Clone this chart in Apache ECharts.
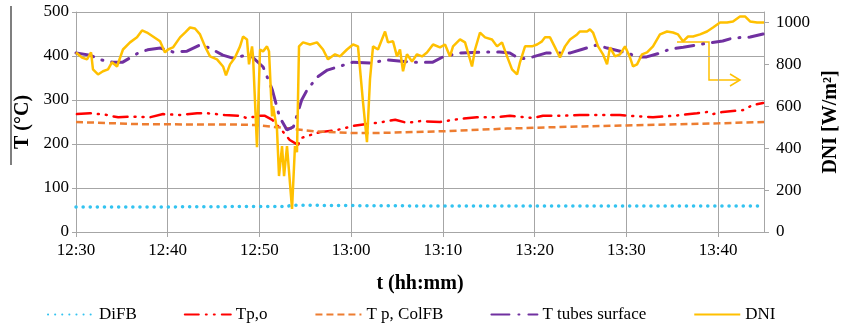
<!DOCTYPE html>
<html>
<head>
<meta charset="utf-8">
<script src="https://cdn.jsdelivr.net/npm/echarts@6/dist/echarts.min.js"></script>
<style>
  html, body { margin: 0; padding: 0; background: #fff; }
  #chart { width: 842px; height: 331px; }
</style>
</head>
<body>
<div id="chart"></div>
<script>
// time axis: minutes after 12:30
const xTicks = ['12:30', '12:40', '12:50', '13:00', '13:10', '13:20', '13:30', '13:40'];

// DiFB (°C)
const difbT = [0, 10, 20, 23, 23.5, 30, 40, 50, 60, 75];
const difbV = [57, 57, 58, 58, 61, 60, 59, 59, 59, 59];

// Tp,o (°C)
const tpoT = [0.1, 1.5, 3.4, 3.9, 4.6, 5.9, 8.1, 9.5, 11.3, 13.2, 14.3, 16.2, 17.9, 18.6, 20.1, 20.6, 21.4, 22.6, 23.3, 24.2,
  24.6, 25.5, 26.6, 28.5, 30.2, 31.5, 32.8, 34.8, 36.1, 37.5, 39.7, 41.1, 43.7, 44.8, 45.9, 47.3, 49.8, 50.9, 52.8, 54.9,
  59.3, 60.4, 62.9, 65.1, 67.7, 68.9, 69.4, 70.5, 72.7, 73.8, 74.9];
const tpoV = [268, 270, 266, 263, 261, 262, 261, 268, 266, 270, 270, 266, 264, 259, 264, 264, 255, 227, 209, 198,
  214, 220, 227, 232, 241, 245, 248, 255, 248, 252, 250, 255, 261, 261, 261, 264, 259, 264, 264, 266,
  266, 264, 261, 264, 270, 273, 268, 273, 277, 289, 293];

// T p, ColFB (°C)
const colT = [0, 7, 18, 19.5, 22, 26, 30, 33, 40, 47, 55, 60, 70, 75];
const colV = [250, 245, 244, 243, 238, 229, 225, 225, 229, 235, 240, 242, 247, 250];

// T tubes surface (°C)
const tubeT = [0, 1.5, 2.8, 4.0, 5.1, 6.8, 7.8, 9.2, 10.6, 12.1, 13.5, 14.6, 16.0, 17.1, 18.6, 19.0, 20.4, 21.4, 22.2, 23.0,
  23.7, 24.6, 25.2, 26.3, 27.4, 28.5, 30.2, 32.1, 33.9, 36.7, 38.9, 40.0, 41.9, 44.4, 46.2, 47.3, 48.4, 49.8, 51.3, 53.9,
  55.3, 56.8, 57.9, 60.1, 61.2, 62.2, 63.4, 64.8, 66.2, 67.7, 69.1, 70.5, 71.6, 73.5, 74.9];
const tubeV = [407, 402, 391, 386, 386, 407, 414, 418, 409, 411, 425, 418, 402, 395, 402, 402, 375, 323, 261, 232,
  239, 300, 323, 352, 368, 375, 386, 384, 391, 386, 386, 398, 407, 409, 409, 407, 393, 398, 407, 407,
  416, 425, 418, 407, 398, 398, 405, 416, 420, 425, 430, 434, 441, 443, 450];

// DNI (W/m2)
const dniT = [0, 0.65, 1.2, 1.64, 1.85, 2.4, 2.94, 3.49, 3.92, 4.47, 5.12, 5.89, 6.65, 7.2, 7.74, 8.39, 9.16, 9.7, 10.03, 10.57,
  11.34, 11.88, 12.43, 12.97, 13.52, 14.06, 14.61, 15.37, 16.03, 16.35, 16.79, 17.33, 17.88, 18.21, 18.64, 18.86, 19.19, 19.3, 19.73, 20.06,
  20.39, 20.82, 21.04, 21.37, 21.48, 21.91, 22.13, 22.46, 22.68, 23.0, 23.55, 23.87, 24.09, 24.31, 24.75, 25.51, 26.27, 26.93, 27.47, 28.24,
  28.78, 29.54, 30.2, 30.74, 31.29, 31.72, 32.05, 32.38, 32.92, 33.69, 34.01, 34.56, 34.99, 35.32, 35.65, 36.08, 36.63, 37.17, 37.72, 38.26,
  38.92, 39.68, 40.23, 40.77, 41.1, 41.86, 42.41, 42.73, 43.17, 43.5, 44.04, 44.59, 45.35, 45.9, 46.44, 46.99, 47.53, 48.08, 48.4, 48.95,
  49.71, 50.26, 50.8, 51.13, 51.67, 52.22, 52.76, 53.31, 53.85, 54.62, 54.94, 55.71, 56.03, 56.36, 56.91, 57.45, 57.89, 58.21, 58.76, 59.3,
  59.85, 60.39, 60.72, 61.16, 61.7, 62.25, 62.9, 63.66, 64.43, 65.08, 65.63, 66.17, 66.72, 67.26, 68.03, 68.79, 69.44, 70.21, 70.97, 71.62,
  72.38, 72.93, 73.48, 74.24, 75.0];
const dniV = [857, 833, 824, 857, 776, 752, 767, 776, 810, 790, 871, 905, 929, 962, 952, 933, 910, 857, 871, 881,
  929, 952, 976, 971, 943, 886, 838, 824, 790, 748, 800, 833, 886, 933, 919, 800, 886, 838, 405, 871,
  862, 886, 862, 552, 600, 490, 267, 410, 267, 410, 110, 410, 381, 886, 905, 895, 905, 871, 824, 848,
  838, 871, 895, 886, 619, 429, 729, 886, 871, 957, 905, 910, 838, 871, 767, 848, 814, 848, 838, 857,
  895, 881, 895, 838, 886, 919, 905, 857, 790, 871, 952, 929, 919, 886, 905, 838, 776, 752, 810, 886,
  886, 895, 910, 929, 929, 881, 833, 886, 919, 943, 957, 957, 967, 952, 886, 848, 800, 881, 838, 848,
  886, 833, 790, 800, 848, 857, 886, 943, 957, 952, 943, 910, 933, 933, 943, 957, 976, 1000, 1000, 1005,
  1029, 1029, 1005, 1000, 1000];

function pairs(t, v) { return t.map((x, i) => [x, v[i]]); }

const serif = '"Liberation Serif", "DejaVu Serif", serif';
const gridColor = '#a6a6a6';

let myChart = echarts.init(document.getElementById('chart'));
myChart.setOption({
  animation: false,
  textStyle: { fontFamily: serif },
  grid: { left: 76, right: 78, top: 12, bottom: 99, containLabel: false, outerBoundsMode: 'none' },
  legend: {
    left: 42,
    bottom: 3,
    itemGap: 47,
    itemWidth: 46,
    itemHeight: 10,
    itemStyle: { opacity: 0 },
    textStyle: { fontFamily: serif, fontSize: 17, color: '#000' },
    data: ['DiFB', 'Tp,o', 'T p, ColFB', 'T tubes surface', 'DNI']
  },
  xAxis: {
    type: 'value',
    min: 0,
    max: 75,
    interval: 10,
    name: 't (hh:mm)',
    nameLocation: 'middle',
    nameGap: 42,
    nameTextStyle: { fontFamily: serif, fontSize: 20, fontWeight: 'bold', color: '#000' },
    axisLine: { lineStyle: { color: gridColor } },
    axisTick: { show: true, length: 5, lineStyle: { color: gridColor } },
    axisLabel: {
      showMaxLabel: false,
      fontSize: 17,
      color: '#000',
      margin: 10,
      formatter: v => xTicks[Math.round(v / 10)] || ''
    },
    splitLine: { show: true, lineStyle: { color: gridColor, width: 1 } }
  },
  yAxis: [
    {
      type: 'value',
      min: 0,
      max: 500,
      interval: 100,
      name: 'T (°C)',
      nameLocation: 'middle',
      nameGap: 43,
      nameTextStyle: { fontFamily: serif, fontSize: 20, fontWeight: 'bold', color: '#000' },
      axisLine: { show: true, lineStyle: { color: gridColor } },
      axisTick: { show: true, length: 4, lineStyle: { color: gridColor } },
      axisLabel: { fontSize: 17, color: '#000', margin: 7 },
      splitLine: { show: true, lineStyle: { color: gridColor, width: 1 } }
    },
    {
      type: 'value',
      min: 0,
      max: 1050,
      interval: 200,
      name: 'DNI [W/m²]',
      nameLocation: 'middle',
      nameGap: 32,
      nameRotate: 90,
      nameTextStyle: { fontFamily: serif, fontSize: 20, fontWeight: 'bold', color: '#000' },
      axisLine: { show: true, lineStyle: { color: gridColor } },
      axisTick: { show: true, length: 5, lineStyle: { color: gridColor } },
      axisLabel: { fontSize: 17, color: '#000', margin: 12, showMaxLabel: false, formatter: v => String(v) },
      splitLine: { show: false }
    }
  ],
  series: [
    {
      name: 'DiFB', type: 'line', yAxisIndex: 0, showSymbol: false, symbol: 'none',
      lineStyle: { color: '#33c3f0', width: 3.5, type: [0.1, 7], cap: 'round' },
      itemStyle: { color: '#33c3f0' },
      data: pairs(difbT, difbV)
    },
    {
      name: 'Tp,o', type: 'line', yAxisIndex: 0, showSymbol: false, symbol: 'none',
      lineStyle: { color: '#ff0000', width: 2.5, type: [14, 7, 1, 7, 1, 7], cap: 'round' },
      itemStyle: { color: '#ff0000' },
      data: pairs(tpoT, tpoV)
    },
    {
      name: 'T p, ColFB', type: 'line', yAxisIndex: 0, showSymbol: false, symbol: 'none',
      lineStyle: { color: '#ed7d31', width: 2.5, type: [7, 4] },
      itemStyle: { color: '#ed7d31' },
      data: pairs(colT, colV)
    },
    {
      name: 'T tubes surface', type: 'line', yAxisIndex: 0, showSymbol: false, symbol: 'none',
      lineStyle: { color: '#7030a0', width: 3, type: [18, 9, 1, 9], cap: 'round' },
      itemStyle: { color: '#7030a0' },
      data: pairs(tubeT, tubeV)
    },
    {
      name: 'DNI', type: 'line', yAxisIndex: 1, showSymbol: false, symbol: 'none',
      lineStyle: { color: '#ffc000', width: 2.5 },
      itemStyle: { color: '#ffc000' },
      data: pairs(dniT, dniV)
    }
  ],
  graphic: [
    {
      type: 'polyline',
      shape: { points: [[677, 42], [709, 42], [709, 80], [740, 80]] },
      style: { stroke: '#ffc000', lineWidth: 1.5, fill: null }
    },
    {
      type: 'polyline',
      shape: { points: [[730, 74], [740, 80], [730, 86]] },
      style: { stroke: '#ffc000', lineWidth: 1.5, fill: null }
    },
    {
      type: 'line',
      shape: { x1: 11, y1: 6, x2: 11, y2: 165 },
      style: { stroke: '#7f7f7f', lineWidth: 2 }
    }
  ]
});
</script>
</body>
</html>
